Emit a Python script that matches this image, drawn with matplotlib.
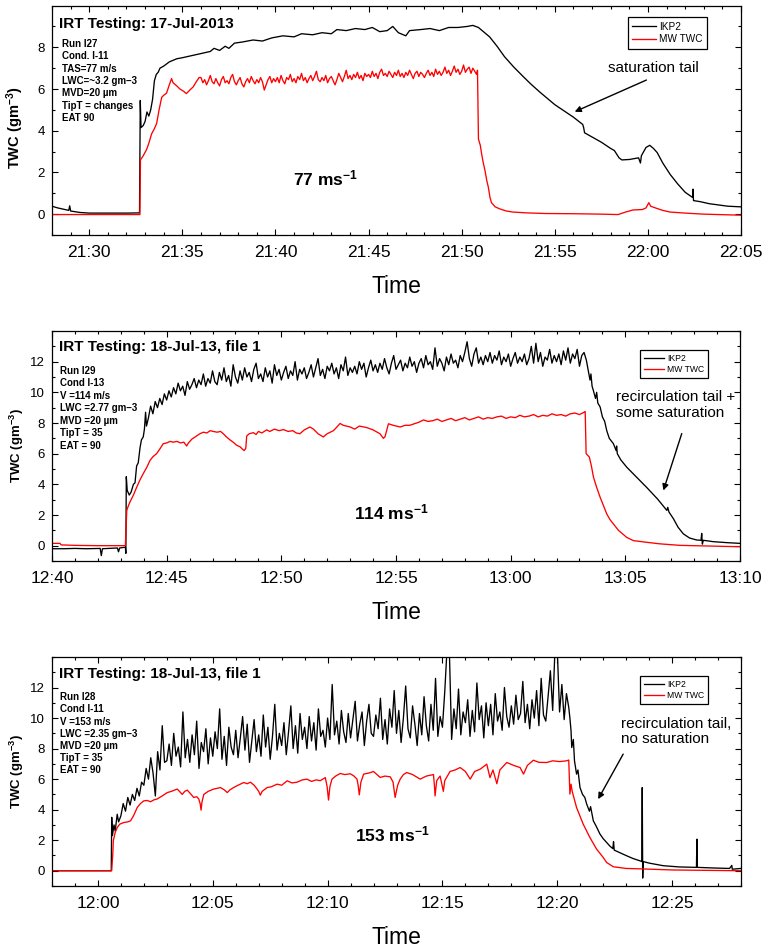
import numpy as np
import pandas as pd
import matplotlib
matplotlib.use('Agg')
import matplotlib.pyplot as plt
import matplotlib.dates as mdates

plt.rcParams['font.family'] = ['Liberation Sans', 'DejaVu Sans']
plt.rcParams['mathtext.default'] = 'regular'

# ---------------------------------------------------------------- data
# Panel 1 : 17-Jul-2013, times in minutes after 21:00
P1_BASE = '2013-07-17 21:00'
p1_ikp2_t = [28.0, 28.3, 28.6, 28.9, 28.95, 29.0, 29.5, 30.0, 31.0, 32.0,
             32.70, 32.74, 32.78, 32.9, 33.0, 33.1, 33.2, 33.3, 33.4, 33.5,
             33.6, 33.7, 33.8, 34.0, 34.3, 34.7, 35.0, 35.5, 36.0, 36.5,
             36.7, 37.0, 37.3, 37.5, 37.8, 38.2, 38.8, 39.3, 39.8, 40.4,
             41.0, 41.4, 42.0, 42.5, 43.0, 43.3, 43.8, 44.3, 44.8, 45.2,
             45.6, 46.0, 46.3, 46.6, 47.0, 47.2, 47.8, 48.3, 48.8, 49.3,
             49.8, 50.3, 50.6, 50.9, 51.1, 51.5, 51.9, 52.3, 52.8, 53.3,
             53.7, 54.2, 54.6, 55.0, 55.5, 56.0, 56.5, 56.55, 56.6, 57.0,
             57.5, 58.0, 58.2, 58.45, 58.6, 59.0, 59.5, 59.6, 59.65, 59.9,
             60.1, 60.3, 60.5, 60.8, 61.2, 61.6, 62.0, 62.4, 62.42, 62.45,
             62.8, 63.3, 63.8, 64.3, 65.0]
p1_ikp2_v = [0.38, 0.30, 0.24, 0.18, 0.40, 0.15, 0.08, 0.05, 0.05, 0.05,
             0.06, 5.45, 4.15, 4.25, 4.45, 4.9, 4.7, 5.0, 5.5, 6.4,
             6.7, 6.8, 7.0, 7.1, 7.3, 7.45, 7.5, 7.6, 7.7, 7.8,
             7.95, 7.85, 8.05, 7.95, 8.2, 8.25, 8.35, 8.3, 8.45, 8.55,
             8.5, 8.65, 8.6, 8.7, 8.65, 8.85, 8.8, 8.9, 8.85, 8.95,
             8.75, 8.8, 9.0, 8.7, 8.55, 8.8, 8.85, 8.9, 8.8, 8.95,
             8.95, 9.0, 9.05, 8.95, 8.8, 8.5, 8.05, 7.55, 7.05, 6.6,
             6.25, 5.85, 5.55, 5.25, 4.95, 4.65, 4.3, 4.15, 3.9, 3.7,
             3.45, 3.15, 3.05, 2.7, 2.6, 2.62, 2.7, 2.45, 2.8, 3.2,
             3.3, 3.15, 2.95, 2.45, 1.9, 1.45, 1.05, 0.8, 1.2, 0.65,
             0.6, 0.5, 0.44, 0.38, 0.35]
p1_mw_pre_t = [28.0, 32.72, 32.75, 32.9, 33.08, 33.2, 33.35, 33.5, 33.62, 33.75,
               33.89, 34.0, 34.15, 34.3, 34.42, 34.5, 34.7, 34.87, 35.05, 35.22,
               35.4, 35.58, 35.75, 35.9]
p1_mw_pre_v = [-0.02, -0.02, 2.6, 2.8, 3.1, 3.4, 3.85, 4.1, 4.35, 5.0,
               5.6, 5.7, 5.8, 6.2, 6.5, 6.3, 6.15, 6.0, 5.9, 5.78,
               5.95, 6.1, 6.35, 6.55]
p1_mw_plateau_start, p1_mw_plateau_step = 36.0, 0.1
p1_mw_plateau_v = [
    6.55, 6.30, 6.45, 6.20, 6.40, 6.65, 6.35, 6.25, 6.50, 6.30,
    6.15, 6.45, 6.60, 6.30, 6.40, 6.25, 6.55, 6.70, 6.35, 6.20,
    6.40, 6.55, 6.25, 6.10, 6.35, 6.50, 6.30, 6.60, 6.40, 6.25,
    6.45, 6.30, 6.55, 6.35, 5.95, 6.20, 6.45, 6.60, 6.30, 6.50,
    6.35, 6.55, 6.30, 6.65, 6.40, 6.25, 6.55, 6.45, 6.70, 6.35,
    6.50, 6.30, 6.60, 6.45, 6.75, 6.40, 6.55, 6.30, 6.50, 6.65,
    6.40, 6.60, 6.85, 6.45, 6.35, 6.55, 6.40, 6.65, 6.30, 6.50,
    6.60, 6.40, 6.20, 6.45, 6.75, 6.55, 6.35, 6.60, 6.90, 6.50,
    6.65, 6.45, 6.70, 6.55, 6.80, 6.50, 6.65, 6.40, 6.75, 6.60,
    6.70, 6.55, 6.85, 6.60, 6.75, 6.50, 6.80, 6.95, 6.65, 6.75,
    6.60, 6.85, 6.70, 6.55, 6.80, 6.65, 6.90, 6.60, 6.75, 6.55,
    6.80, 6.65, 6.90, 6.70, 6.50, 6.75, 6.85, 6.60, 6.80, 6.70,
    6.55, 6.75, 6.90, 6.65, 6.80, 6.60, 6.95, 6.70, 6.85, 6.65,
    6.80, 7.05, 6.75, 6.90, 6.65, 6.85, 7.10, 6.80, 6.95, 6.70,
    6.85, 7.15, 6.80, 6.95, 7.05, 6.75, 7.00, 6.85, 6.70]
p1_mw_post_t = [50.85, 50.9, 51.0, 51.07, 51.15, 51.25, 51.35, 51.43, 51.52, 51.6,
                51.8, 52.05, 52.4, 52.76, 53.5, 54.5, 56.0, 57.5, 58.4, 58.8,
                59.2, 59.7, 59.9, 60.05, 60.15, 60.4, 60.8, 61.2, 62.0, 63.0, 65.0]
p1_mw_post_v = [6.9, 3.6, 3.3, 2.9, 2.5, 2.1, 1.6, 1.3, 0.8, 0.55,
                0.35, 0.25, 0.15, 0.1, 0.06, 0.03, 0.02, 0.0, -0.02, 0.1,
                0.2, 0.22, 0.3, 0.55, 0.38, 0.3, 0.18, 0.1, 0.05, 0.0, -0.05]

# Panel 2 : 18-Jul-13 run I29, minutes after 12:00
P2_BASE = '2013-07-18 12:00'
p2_ikp2_pre_t = [40.0, 40.5, 41.0, 41.5, 42.1, 42.15, 42.2, 42.85, 42.9, 42.95,
                 43.2, 43.22, 43.24, 43.28, 43.37, 43.45, 43.55, 43.62, 43.69, 43.76,
                 43.84, 43.9, 43.98, 44.03, 44.08, 44.12]
p2_ikp2_pre_v = [-0.2, -0.2, -0.18, -0.2, -0.18, -0.65, -0.2, -0.15, -0.4, -0.15,
                 -0.1, -0.5, 4.5, 3.6, 3.3, 3.5, 4.0, 4.1, 5.2, 5.4,
                 6.4, 6.9, 7.1, 7.6, 8.7, 7.8]
p2_ikp2_plateau_start, p2_ikp2_plateau_step = 44.2, 0.1
p2_ikp2_plateau_v = [
    8.3, 9.1, 8.6, 9.4, 9.0, 9.6, 9.2, 9.9, 9.5, 10.1,
    9.7, 10.3, 9.9, 10.6, 10.1, 10.4, 9.8, 10.7, 10.2, 10.5,
    10.9, 10.3, 10.8, 10.5, 11.2, 10.4, 10.9, 10.6, 11.4, 10.7,
    10.5, 11.3, 10.8, 11.6, 10.7, 11.1, 10.4, 11.8, 11.0, 10.6,
    11.4, 10.8, 11.6, 11.0, 11.3, 10.7, 11.5, 11.9, 10.9, 11.2,
    10.7, 11.6, 11.0, 11.4, 10.6, 11.8, 11.1, 11.5, 10.8, 11.3,
    11.7, 10.9, 11.4, 11.1, 12.0, 10.8, 11.5, 11.2, 11.6, 10.9,
    11.3, 11.8, 11.0, 11.6, 12.2, 11.1, 11.5, 10.9, 11.7, 11.4,
    11.9, 11.2, 11.6, 10.9, 11.8, 11.4, 12.3, 11.1, 11.6, 11.3,
    11.7, 11.2, 12.0, 11.5, 11.9, 11.0, 11.6, 12.1, 11.4, 11.8,
    11.3, 11.9, 11.5, 12.2, 11.6, 11.2, 11.9, 12.4, 11.5, 11.8,
    12.1, 11.4, 11.9, 11.6, 12.3, 11.7, 12.0, 11.3, 11.9, 12.2,
    11.6, 12.4, 11.8, 12.0, 11.5, 12.9, 11.7, 12.2, 11.9, 11.4,
    12.3, 11.8, 12.5, 11.9, 12.1, 11.6, 12.4, 12.0, 12.6, 13.3,
    12.2, 11.7, 12.5, 12.9, 11.9, 12.3, 11.8, 12.4, 12.0, 12.6,
    11.9, 12.4, 12.1, 12.7, 11.8, 12.3, 12.0, 12.5, 11.7, 12.2,
    12.6, 11.9, 12.3, 12.0, 12.5, 11.8, 12.2, 13.0, 11.9, 13.2,
    12.0, 12.6, 11.7, 12.3, 12.1, 12.8, 11.9, 12.4, 12.0, 12.5,
    11.8, 12.7, 12.1, 12.9, 11.9, 12.5, 12.2, 12.8, 11.7, 12.4,
    12.6, 12.1]
p2_ikp2_post_t = [63.4, 63.46, 63.5, 63.55, 63.61, 63.7, 63.75, 63.8, 63.9, 64.0,
                  64.1, 64.19, 64.3, 64.48, 64.6, 64.62, 64.65, 64.8, 65.06, 65.5,
                  65.93, 66.4, 66.81, 66.85, 66.9, 67.1, 67.3, 67.53, 67.8, 68.11,
                  68.3, 68.33, 68.36, 68.4, 68.84, 69.4, 70.0]
p2_ikp2_post_v = [11.3, 10.8, 11.2, 10.4, 10.1, 9.6, 10.0, 9.3, 9.05, 8.4,
                  8.1, 7.5, 7.0, 6.65, 6.2, 6.5, 6.0, 5.6, 5.12, 4.45,
                  3.8, 3.05, 2.3, 2.5, 2.2, 1.75, 1.2, 0.77, 0.5, 0.37,
                  0.35, 0.8, 0.1, 0.35, 0.26, 0.2, 0.15]
p2_mw_pre_t = [40.0, 40.35, 40.4, 41.0, 42.0, 43.2, 43.26, 43.33, 43.4, 43.55,
               43.69, 43.84, 43.98, 44.13, 44.27, 44.4, 44.56, 44.7, 44.85, 45.0,
               45.15, 45.29, 45.45, 45.6, 45.75, 45.87, 45.95, 46.1, 46.25, 46.45,
               46.6, 46.75, 46.9, 47.03, 47.2, 47.35, 47.47, 47.6, 47.76, 47.9,
               48.05, 48.2, 48.3, 48.38, 48.45, 48.49, 48.6, 48.78, 48.9, 49.0,
               49.15, 49.36, 49.5, 49.7, 49.9, 50.09, 50.3, 50.5, 50.65, 50.81,
               51.0, 51.25, 51.4, 51.6, 51.83, 52.0, 52.27, 52.4, 52.56, 52.7,
               53.0, 53.2, 53.4, 53.73, 54.0, 54.3, 54.45, 54.52, 54.67, 54.88,
               55.18, 55.4, 55.6]
p2_mw_pre_v = [0.15, 0.15, 0.05, 0.02, 0.0, 0.0, 2.3, 2.6, 2.85, 3.3,
               3.8, 4.3, 4.7, 5.1, 5.55, 5.8, 6.0, 6.3, 6.65, 6.7,
               6.8, 6.75, 6.8, 6.7, 6.75, 6.5, 6.7, 6.95, 7.1, 7.3,
               7.4, 7.35, 7.5, 7.45, 7.4, 7.45, 7.3, 7.1, 6.9, 6.75,
               6.55, 6.45, 6.3, 6.2, 6.35, 7.15, 7.3, 7.37, 7.25, 7.45,
               7.35, 7.55, 7.45, 7.6, 7.5, 7.57, 7.45, 7.5, 7.35, 7.3,
               7.55, 7.74, 7.6, 7.3, 7.09, 7.3, 7.5, 7.7, 7.97, 7.85,
               7.74, 7.6, 7.8, 7.7, 7.55, 7.3, 7.0, 7.1, 7.95, 7.85,
               7.74, 7.85, 7.85]
p2_mw_plateau_start, p2_mw_plateau_step = 55.8, 0.2
p2_mw_plateau_v = [7.95, 8.05, 8.2, 8.1, 8.15, 8.25, 8.1, 8.2, 8.3, 8.15,
                   8.25, 8.35, 8.2, 8.3, 8.4, 8.25, 8.35, 8.3, 8.4, 8.45,
                   8.3, 8.4, 8.35, 8.5, 8.4, 8.45, 8.55, 8.4, 8.5, 8.45,
                   8.6, 8.5, 8.55, 8.45, 8.6, 8.65, 8.55, 8.7]
p2_mw_post_t = [63.25, 63.29, 63.43, 63.52, 63.61, 63.75, 63.9, 64.05, 64.19, 64.33,
                64.48, 64.7, 65.06, 65.35, 65.93, 66.5, 67.38, 68.5, 70.0]
p2_mw_post_v = [8.75, 6.0, 5.78, 5.2, 4.47, 3.8, 3.16, 2.6, 2.07, 1.7,
                1.42, 1.0, 0.54, 0.33, 0.22, 0.12, 0.02, -0.02, -0.07]

# Panel 3 : 18-Jul-13 run I28, minutes after 12:00
P3_BASE = '2013-07-18 12:00'
p3_ikp2_pre_t = [-2.0, 0.58, 0.6, 0.63, 0.7, 0.75, 0.84, 0.9]
p3_ikp2_pre_v = [0.0, 0.0, 3.5, 2.3, 3.0, 2.6, 3.7, 3.2]
p3_ikp2_plateau_start, p3_ikp2_plateau_step = 1.0, 0.1
p3_ikp2_plateau_v = [
    3.6, 4.4, 3.9, 4.8, 4.3, 5.0, 4.6, 5.4, 4.9, 5.8,
    5.6, 6.7, 6.0, 7.4, 6.4, 4.9, 7.8, 6.6, 9.5, 7.1,
    7.2, 8.3, 6.9, 9.0, 7.5, 8.1, 6.8, 10.4, 7.4, 8.6,
    7.1, 8.9, 7.6, 9.8, 6.7, 8.4, 7.8, 9.3, 7.0, 8.7,
    7.5, 9.1, 8.0, 10.6, 7.3, 8.8, 6.9, 9.4, 8.1, 7.6,
    9.2, 7.4, 8.7, 10.1, 7.9, 9.6, 7.1, 8.5, 9.9, 7.8,
    8.9, 7.5, 10.2, 8.1, 9.4, 7.3, 8.8, 10.9, 7.9, 9.0,
    8.2, 9.7, 7.6, 9.1, 10.8, 8.0, 9.5, 7.7, 10.3, 8.6,
    9.4, 8.0, 10.1, 8.5, 9.7, 7.9, 10.6, 8.8, 9.2, 8.1,
    10.0, 8.6, 12.2, 8.9, 9.8, 8.3, 10.5, 9.1, 8.4, 10.3,
    8.7, 9.9, 11.1, 8.5, 9.6, 10.4, 8.2, 9.8, 10.9, 9.0,
    8.8, 10.2, 9.3, 11.3, 8.6, 9.9, 8.3, 10.6, 9.4, 11.8,
    9.0, 10.5, 8.4, 10.0, 12.1, 9.3, 8.7, 10.8, 9.6, 8.2,
    10.3, 8.9, 11.4, 9.5, 8.5, 10.9, 9.2, 12.6, 8.8, 10.1,
    9.4, 11.7, 14.5, 14.5, 8.6, 10.6, 9.3, 11.9, 8.9, 10.4,
    9.7, 11.2, 8.8, 10.5, 9.1, 12.3, 9.9, 10.8, 8.7, 11.0,
    9.5, 10.9, 8.9, 11.6, 9.8, 10.4, 9.2, 12.0, 10.1, 9.4,
    10.8, 9.6, 11.5, 9.9, 10.3, 12.4, 9.7, 10.9, 9.3, 11.2,
    10.0, 11.8, 9.5, 12.6, 10.2, 9.8, 11.4, 13.1, 10.5, 14.5,
    14.5, 10.4, 12.2, 9.9, 11.6, 10.7]
p3_ikp2_post_t = [20.55, 20.6, 20.63, 20.7, 20.75, 20.84, 20.9, 20.99, 21.1, 21.2,
                  21.28, 21.4, 21.45, 21.57, 21.7, 21.86, 22.0, 22.15, 22.3, 22.42,
                  22.45, 22.48, 22.7, 23.02, 23.3, 23.6, 23.68, 23.7, 23.72, 23.74,
                  24.0, 24.61, 25.3, 26.06, 26.08, 26.1, 26.8, 27.5, 27.6, 27.62, 28.0]
p3_ikp2_post_v = [10.0, 9.16, 8.07, 8.6, 7.2, 6.33, 6.6, 5.45, 5.0, 4.8,
                  4.37, 3.9, 4.2, 3.27, 2.9, 2.4, 2.1, 1.85, 1.6, 1.45,
                  1.9, 1.35, 1.2, 0.98, 0.8, 0.65, 0.6, 5.45, -0.48, 0.6,
                  0.5, 0.33, 0.25, 0.22, 2.07, 0.22, 0.18, 0.15, 0.35, 0.1, 0.15]
p3_mw_t = [-2.0, 0.6, 0.65, 0.67, 0.75, 0.84, 0.95, 1.13, 1.3, 1.42,
           1.55, 1.71, 1.85, 2.0, 2.15, 2.29, 2.45, 2.58, 2.8, 3.02,
           3.2, 3.45, 3.55, 3.67, 3.78, 3.89, 4.0, 4.17, 4.3, 4.39,
           4.45, 4.49, 4.53, 4.61, 4.8, 5.04, 5.2, 5.33, 5.5, 5.63,
           5.75, 5.91, 6.1, 6.35, 6.5, 6.64, 6.8, 6.93, 7.0, 7.07,
           7.15, 7.37, 7.55, 7.8, 8.0, 8.24, 8.45, 8.67, 8.9, 9.1,
           9.3, 9.5, 9.68, 9.9, 9.98, 10.04, 10.1, 10.19, 10.35, 10.55,
           10.75, 10.99, 11.15, 11.28, 11.33, 11.38, 11.45, 11.57, 11.8, 12.0,
           12.15, 12.29, 12.5, 12.73, 12.85, 12.94, 13.05, 13.16, 13.3, 13.45,
           13.7, 14.03, 14.3, 14.61, 14.65, 14.68, 14.75, 14.9, 15.04, 15.1,
           15.33, 15.55, 15.77, 16.0, 16.21, 16.4, 16.64, 16.93, 17.07, 17.2,
           17.37, 17.5, 17.8, 18.1, 18.38, 18.53, 18.7, 18.96, 19.2, 19.54,
           19.8, 20.1, 20.41, 20.5, 20.55, 20.6, 20.65, 20.84, 21.13, 21.42,
           21.71, 22.0, 22.15, 22.44, 23.0, 23.89, 25.0, 28.0]
p3_mw_v = [0.0, 0.0, 1.2, 1.96, 2.5, 2.83, 3.05, 3.16, 3.2, 3.27,
           3.6, 4.14, 4.4, 4.58, 4.6, 4.52, 4.65, 4.7, 4.9, 5.12,
           5.2, 5.35, 5.2, 5.0, 5.2, 5.28, 5.1, 4.8, 4.85, 4.7,
           4.4, 3.97, 4.5, 5.0, 5.2, 5.35, 5.4, 5.45, 5.3, 5.12,
           5.3, 5.45, 5.6, 5.78, 5.7, 5.8, 5.6, 5.35, 5.2, 4.95,
           5.2, 5.45, 5.5, 5.67, 5.6, 5.89, 5.75, 5.8, 5.95, 6.0,
           5.85, 5.95, 5.9, 6.1, 5.5, 4.63, 5.5, 6.0, 6.2, 6.37,
           6.3, 6.35, 6.2, 6.0, 5.6, 4.97, 5.8, 6.33, 6.4, 6.5,
           6.3, 6.11, 6.2, 6.15, 5.8, 4.8, 5.6, 6.0, 6.3, 6.43,
           6.3, 6.0, 6.2, 6.3, 5.6, 4.9, 5.9, 6.2, 5.2, 5.9,
           6.5, 6.6, 6.76, 6.5, 6.0, 6.5, 6.65, 6.98, 6.1, 6.6,
           5.7, 6.6, 7.09, 6.9, 6.76, 6.33, 6.9, 7.24, 7.1, 7.09,
           7.2, 7.15, 7.2, 7.25, 5.02, 5.67, 5.2, 4.14, 3.05, 2.18,
           1.42, 0.87, 0.54, 0.26, 0.15, 0.11, 0.05, 0.0]

series_labels = ['IKP2', 'MW TWC']
titles = ['IRT Testing: 17-Jul-2013', 'IRT Testing: 18-Jul-13, file 1',
          'IRT Testing: 18-Jul-13, file 1']
info_lines = [
    ['Run I27', 'Cond. I-11', 'TAS=77 m/s', 'LWC=~3.2 gm\u20133', 'MVD=20 \u00b5m',
     'TipT = changes', 'EAT 90'],
    ['Run I29', 'Cond I-13', 'V =114 m/s', 'LWC =2.77 gm\u20133', 'MVD =20 \u00b5m',
     'TipT = 35', 'EAT = 90'],
    ['Run I28', 'Cond I-11', 'V =153 m/s', 'LWC =2.35 gm\u20133', 'MVD =20 \u00b5m',
     'TipT = 35', 'EAT = 90'],
]
speed_labels = ['77 ms$^{-1}$', '114 ms$^{-1}$', '153 ms$^{-1}$']
notes = ['saturation tail', 'recirculation tail +\nsome saturation',
         'recirculation tail,\nno saturation']


# ---------------------------------------------------------------- helpers
def tnum(base, minutes):
    m = np.asarray(minutes, dtype=float)
    ts = pd.Timestamp(base) + pd.to_timedelta(m, unit='min')
    return mdates.date2num(np.asarray(ts, dtype='datetime64[ns]'))


def join(pre_t, pre_v, start=None, step=None, plat=None, post_t=None, post_v=None):
    assert len(pre_t) == len(pre_v)
    t = list(pre_t)
    v = list(pre_v)
    if plat is not None:
        t += [start + i * step for i in range(len(plat))]
        v += list(plat)
    if post_t is not None:
        assert len(post_t) == len(post_v)
        t += list(post_t)
        v += list(post_v)
    return t, v


panels = [
    dict(base=P1_BASE,
         ikp2=join(p1_ikp2_t, p1_ikp2_v),
         mw=join(p1_mw_pre_t, p1_mw_pre_v, p1_mw_plateau_start, p1_mw_plateau_step,
                 p1_mw_plateau_v, p1_mw_post_t, p1_mw_post_v),
         xlim=(28.0, 65.0), ylim=(-1, 9.98), yticks=[0, 2, 4, 6, 8],
         rect=(52, 6, 741, 235), ylab_fs=10.5, ylab_y=0.47,
         speed_xy=(40.92, 1.73),
         note_xy=(60.28, 7.0), note_ha='center',
         arrow_from=(59.92, 6.43), arrow_to=(56.07, 4.91),
         leg_box=(621, 17, 707, 49), leg_fs=7.2,
         title_y=24, info_x=62, info_y0=44, info_dy=12.33),
    dict(base=P2_BASE,
         ikp2=join(p2_ikp2_pre_t, p2_ikp2_pre_v, p2_ikp2_plateau_start,
                   p2_ikp2_plateau_step, p2_ikp2_plateau_v, p2_ikp2_post_t,
                   p2_ikp2_post_v),
         mw=join(p2_mw_pre_t, p2_mw_pre_v, p2_mw_plateau_start, p2_mw_plateau_step,
                 p2_mw_plateau_v, p2_mw_post_t, p2_mw_post_v),
         xlim=(40.0, 70.0), ylim=(-1, 14), yticks=[0, 2, 4, 6, 8, 10, 12],
         rect=(52, 331, 740, 561), ylab_fs=9.5, ylab_y=0.5,
         speed_xy=(53.17, 2.18),
         note_xy=(64.6, 9.16), note_ha='left',
         arrow_from=(67.46, 7.31), arrow_to=(66.66, 3.6),
         leg_box=(634, 350, 708, 376), leg_fs=6.2,
         title_y=346.7, info_x=59.5, info_y0=370.7, info_dy=12.5),
    dict(base=P3_BASE,
         ikp2=join(p3_ikp2_pre_t, p3_ikp2_pre_v, p3_ikp2_plateau_start,
                   p3_ikp2_plateau_step, p3_ikp2_plateau_v, p3_ikp2_post_t,
                   p3_ikp2_post_v),
         mw=join(p3_mw_t, p3_mw_v),
         xlim=(-2.0, 28.0), ylim=(-1, 14), yticks=[0, 2, 4, 6, 8, 10, 12],
         rect=(52, 657, 741, 886), ylab_fs=9.5, ylab_y=0.5,
         speed_xy=(11.2, 2.4),
         note_xy=(22.76, 9.11), note_ha='left',
         arrow_from=(22.87, 7.64), arrow_to=(21.78, 4.69),
         leg_box=(634, 676, 708, 702), leg_fs=6.2,
         title_y=674, info_x=60, info_y0=697.3, info_dy=12.1),
]

W, H = 762, 947
fig = plt.figure(figsize=(W / 100, H / 100), dpi=100)

for i, p in enumerate(panels):
    l, t, r, b = p['rect']
    ax = fig.add_axes([l / W, 1 - b / H, (r - l) / W, (b - t) / H])
    base = p['base']
    tk, vk = p['ikp2']
    tm, vm = p['mw']
    ax.plot(tnum(base, tk), vk, color='black', lw=0.95, label=series_labels[0])
    ax.plot(tnum(base, tm), vm, color='#ff0000', lw=0.95, label=series_labels[1])

    ax.set_xlim(tnum(base, [p['xlim'][0]])[0], tnum(base, [p['xlim'][1]])[0])
    ax.set_ylim(*p['ylim'])
    ax.set_yticks(p['yticks'])
    ax.yaxis.set_minor_locator(matplotlib.ticker.MultipleLocator(1))
    ax.xaxis.set_major_locator(mdates.MinuteLocator(byminute=range(0, 60, 5)))
    ax.xaxis.set_minor_locator(mdates.MinuteLocator())
    ax.xaxis.set_major_formatter(mdates.DateFormatter('%H:%M'))
    ax.tick_params(which='both', direction='in', top=True, right=True, width=0.8)
    ax.tick_params(which='major', length=4.3)
    ax.tick_params(which='minor', length=2.0)
    ax.tick_params(axis='x', labelsize=12.5, pad=7)
    ax.tick_params(axis='y', labelsize=9.5, pad=5)
    for s in ax.spines.values():
        s.set_linewidth(0.9)

    ax.set_xlabel('Time', fontsize=16.5)
    ax.xaxis.set_label_coords(0.5, -(39.5 / (b - t)))
    ax.set_ylabel('TWC (gm$^{-3}$)', fontsize=p['ylab_fs'], fontweight='bold')
    ax.yaxis.set_label_coords(-26 / (r - l), p['ylab_y'])

    # title & info block (axes-fraction positions)
    def ay(ypix):
        return (b - ypix) / (b - t)

    ax.text(7 / (r - l), ay(p['title_y']), titles[i], transform=ax.transAxes,
            fontsize=11, fontweight='bold', ha='left', va='center')
    for k, line in enumerate(info_lines[i]):
        ax.text((p['info_x'] - l) / (r - l), ay(p['info_y0'] + k * p['info_dy']), line,
                transform=ax.transAxes, fontsize=7, fontweight='bold',
                ha='left', va='center')

    sx, sy = p['speed_xy']
    ax.text(tnum(base, [sx])[0], sy, speed_labels[i], fontsize=12.5,
            fontweight='bold', ha='left', va='center')

    nx, ny = p['note_xy']
    ax.text(tnum(base, [nx])[0], ny, notes[i], fontsize=11, ha=p['note_ha'],
            va='center', linespacing=1.15)
    fx, fy = p['arrow_from']
    ex, ey = p['arrow_to']
    ax.annotate('', xy=(tnum(base, [ex])[0], ey), xytext=(tnum(base, [fx])[0], fy),
                arrowprops=dict(arrowstyle='-|>', color='black', lw=1.0,
                                mutation_scale=9, shrinkA=0, shrinkB=0))

    lx0, ly0, lx1, ly1 = p['leg_box']
    leg = ax.legend(loc='upper right',
                    bbox_to_anchor=((lx1 - l) / (r - l), ay(ly0)),
                    fontsize=p['leg_fs'], frameon=True, fancybox=False,
                    edgecolor='black', framealpha=1, borderaxespad=0,
                    handlelength=2.4, handletextpad=0.3, borderpad=0.45,
                    labelspacing=0.25)
    leg.get_frame().set_linewidth(0.9)

fig.savefig('out.png', dpi=100)
